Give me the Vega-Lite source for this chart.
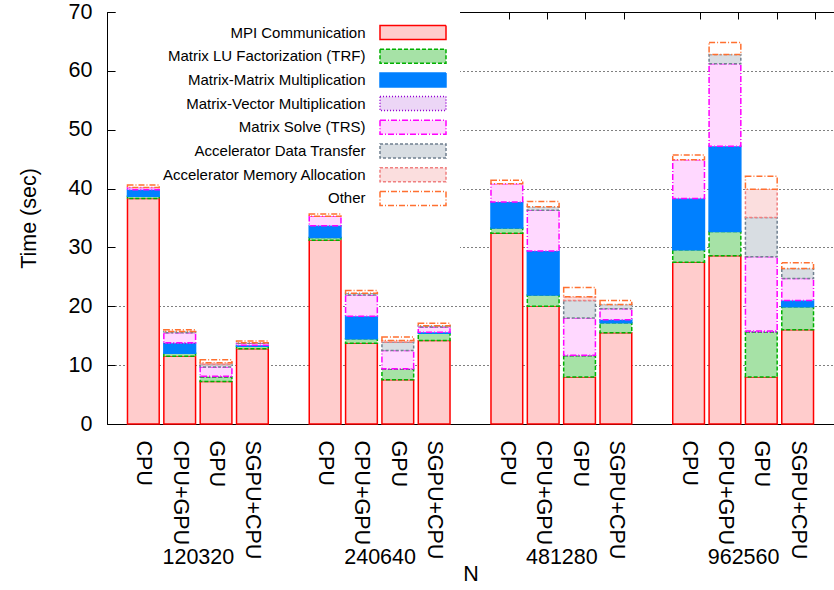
{
  "$schema": "https://vega.github.io/schema/vega-lite/v6.json",
  "autosize": "none",
  "width": 727,
  "height": 412,
  "padding": {"left": 107, "top": 12, "right": 0, "bottom": 166},
  "background": "white",
  "config": {
    "view": {"stroke": null},
    "font": "Liberation Sans",
    "axis": {"labelFont": "Liberation Sans", "titleFont": "Liberation Sans", "labelColor": "black", "titleColor": "black", "titleFontWeight": "normal"},
    "legend": {"labelFont": "Liberation Sans", "labelColor": "black"}
  },
  "data": {
    "values": [
      {"N": "120320", "config": "CPU", "MPI Communication": 38.3, "Matrix LU Factorization (TRF)": 0.4, "Matrix-Matrix Multiplication": 1.1, "Matrix-Vector Multiplication": 0, "Matrix Solve (TRS)": 0.4, "Accelerator Data Transfer": 0, "Accelerator Memory Allocation": 0, "Other": 0.4},
      {"N": "120320", "config": "CPU+GPU", "MPI Communication": 11.5, "Matrix LU Factorization (TRF)": 0.5, "Matrix-Matrix Multiplication": 1.7, "Matrix-Vector Multiplication": 0.1, "Matrix Solve (TRS)": 1.7, "Accelerator Data Transfer": 0.2, "Accelerator Memory Allocation": 0, "Other": 0.3},
      {"N": "120320", "config": "GPU", "MPI Communication": 7.2, "Matrix LU Factorization (TRF)": 0.8, "Matrix-Matrix Multiplication": 0, "Matrix-Vector Multiplication": 0.1, "Matrix Solve (TRS)": 1.6, "Accelerator Data Transfer": 0.4, "Accelerator Memory Allocation": 0.3, "Other": 0.5},
      {"N": "120320", "config": "SGPU+CPU", "MPI Communication": 12.8, "Matrix LU Factorization (TRF)": 0.4, "Matrix-Matrix Multiplication": 0.2, "Matrix-Vector Multiplication": 0, "Matrix Solve (TRS)": 0.3, "Accelerator Data Transfer": 0.1, "Accelerator Memory Allocation": 0, "Other": 0.3},
      {"N": "240640", "config": "CPU", "MPI Communication": 31.2, "Matrix LU Factorization (TRF)": 0.5, "Matrix-Matrix Multiplication": 2.0, "Matrix-Vector Multiplication": 0, "Matrix Solve (TRS)": 1.6, "Accelerator Data Transfer": 0, "Accelerator Memory Allocation": 0, "Other": 0.4},
      {"N": "240640", "config": "CPU+GPU", "MPI Communication": 13.7, "Matrix LU Factorization (TRF)": 0.8, "Matrix-Matrix Multiplication": 3.8, "Matrix-Vector Multiplication": 0, "Matrix Solve (TRS)": 3.6, "Accelerator Data Transfer": 0.3, "Accelerator Memory Allocation": 0, "Other": 0.5},
      {"N": "240640", "config": "GPU", "MPI Communication": 7.5, "Matrix LU Factorization (TRF)": 1.8, "Matrix-Matrix Multiplication": 0, "Matrix-Vector Multiplication": 0.1, "Matrix Solve (TRS)": 3.1, "Accelerator Data Transfer": 1.4, "Accelerator Memory Allocation": 0.3, "Other": 0.6},
      {"N": "240640", "config": "SGPU+CPU", "MPI Communication": 14.2, "Matrix LU Factorization (TRF)": 1.2, "Matrix-Matrix Multiplication": 0.2, "Matrix-Vector Multiplication": 0, "Matrix Solve (TRS)": 0.9, "Accelerator Data Transfer": 0.2, "Accelerator Memory Allocation": 0, "Other": 0.4},
      {"N": "481280", "config": "CPU", "MPI Communication": 32.4, "Matrix LU Factorization (TRF)": 0.9, "Matrix-Matrix Multiplication": 4.4, "Matrix-Vector Multiplication": 0, "Matrix Solve (TRS)": 3.1, "Accelerator Data Transfer": 0, "Accelerator Memory Allocation": 0, "Other": 0.6},
      {"N": "481280", "config": "CPU+GPU", "MPI Communication": 20.0, "Matrix LU Factorization (TRF)": 1.9, "Matrix-Matrix Multiplication": 7.5, "Matrix-Vector Multiplication": 0, "Matrix Solve (TRS)": 6.9, "Accelerator Data Transfer": 0.6, "Accelerator Memory Allocation": 0, "Other": 0.9},
      {"N": "481280", "config": "GPU", "MPI Communication": 8.0, "Matrix LU Factorization (TRF)": 3.6, "Matrix-Matrix Multiplication": 0, "Matrix-Vector Multiplication": 0.1, "Matrix Solve (TRS)": 6.3, "Accelerator Data Transfer": 3.0, "Accelerator Memory Allocation": 0.6, "Other": 1.6},
      {"N": "481280", "config": "SGPU+CPU", "MPI Communication": 15.5, "Matrix LU Factorization (TRF)": 1.7, "Matrix-Matrix Multiplication": 0.5, "Matrix-Vector Multiplication": 0, "Matrix Solve (TRS)": 1.9, "Accelerator Data Transfer": 0.7, "Accelerator Memory Allocation": 0, "Other": 0.7},
      {"N": "962560", "config": "CPU", "MPI Communication": 27.5, "Matrix LU Factorization (TRF)": 2.1, "Matrix-Matrix Multiplication": 8.7, "Matrix-Vector Multiplication": 0, "Matrix Solve (TRS)": 6.6, "Accelerator Data Transfer": 0, "Accelerator Memory Allocation": 0, "Other": 0.8},
      {"N": "962560", "config": "CPU+GPU", "MPI Communication": 28.6, "Matrix LU Factorization (TRF)": 4.1, "Matrix-Matrix Multiplication": 14.5, "Matrix-Vector Multiplication": 0, "Matrix Solve (TRS)": 14.0, "Accelerator Data Transfer": 1.6, "Accelerator Memory Allocation": 0, "Other": 2.0},
      {"N": "962560", "config": "GPU", "MPI Communication": 8.0, "Matrix LU Factorization (TRF)": 7.6, "Matrix-Matrix Multiplication": 0, "Matrix-Vector Multiplication": 0.2, "Matrix Solve (TRS)": 12.6, "Accelerator Data Transfer": 6.7, "Accelerator Memory Allocation": 4.8, "Other": 2.2},
      {"N": "962560", "config": "SGPU+CPU", "MPI Communication": 16.0, "Matrix LU Factorization (TRF)": 3.9, "Matrix-Matrix Multiplication": 1.1, "Matrix-Vector Multiplication": 0, "Matrix Solve (TRS)": 3.7, "Accelerator Data Transfer": 1.7, "Accelerator Memory Allocation": 0, "Other": 1.0}
    ]
  },
  "transform": [
    {"fold": ["MPI Communication", "Matrix LU Factorization (TRF)", "Matrix-Matrix Multiplication", "Matrix-Vector Multiplication", "Matrix Solve (TRS)", "Accelerator Data Transfer", "Accelerator Memory Allocation", "Other"], "as": ["cat", "t"]},
    {"filter": "datum.t > 0"},
    {"calculate": "datum.N + ' ' + datum.config", "as": "bar"},
    {"calculate": "indexof(['MPI Communication','Matrix LU Factorization (TRF)','Matrix-Matrix Multiplication','Matrix-Vector Multiplication','Matrix Solve (TRS)','Accelerator Data Transfer','Accelerator Memory Allocation','Other'], datum.cat)", "as": "ord"}
  ],
  "layer": [
    {
      "data": {"values": [{}]},
      "mark": {"type": "rect", "fill": "white", "stroke": null},
      "encoding": {
        "x": {"datum": 0.012, "type": "quantitative", "scale": {"domain": [0, 1], "nice": false, "zero": false}, "axis": null},
        "x2": {"datum": 0.4856},
        "y": {"datum": 25, "type": "quantitative"},
        "y2": {"datum": 70}
      }
    },
    {
      "mark": {"type": "bar", "strokeWidth": 1.5},
      "encoding": {
        "x": {
          "field": "bar", "type": "nominal",
          "scale": {
            "domain": ["120320 CPU", "120320 CPU+GPU", "120320 GPU", "120320 SGPU+CPU", "g1", "240640 CPU", "240640 CPU+GPU", "240640 GPU", "240640 SGPU+CPU", "g2", "481280 CPU", "481280 CPU+GPU", "481280 GPU", "481280 SGPU+CPU", "g3", "962560 CPU", "962560 CPU+GPU", "962560 GPU", "962560 SGPU+CPU"],
            "paddingInner": 0.127, "paddingOuter": 0.5635
          },
          "axis": {
            "orient": "bottom", "title": null, "ticks": false, "domain": true, "domainColor": "black", "domainWidth": 1,
            "labelAngle": 90, "labelAlign": "left", "labelBaseline": "middle", "labelPadding": 16, "labelFontSize": 21.5,
            "labelExpr": "indexof(datum.value, ' ') < 0 ? '' : slice(datum.value, indexof(datum.value, ' ') + 1)",
            "grid": false
          }
        },
        "y": {
          "aggregate": "sum", "field": "t", "type": "quantitative", "stack": "zero",
          "scale": {"domain": [0, 70], "nice": false},
          "axis": {
            "title": "Time (sec)", "values": [0, 10, 20, 30, 40, 50, 60, 70],
            "grid": true, "gridDash": [1, 3], "gridColor": "black", "gridWidth": 1, "gridOpacity": 1,
            "tickSize": -8, "tickColor": "black", "domainColor": "black",
            "labelFontSize": 21.5, "labelPadding": 23, "titleFontSize": 21.5, "titlePadding": 28
          }
        },
        "order": {"field": "ord", "type": "quantitative"},
        "fill": {
          "field": "cat", "type": "nominal",
          "scale": {
            "domain": ["MPI Communication", "Matrix LU Factorization (TRF)", "Matrix-Matrix Multiplication", "Matrix-Vector Multiplication", "Matrix Solve (TRS)", "Accelerator Data Transfer", "Accelerator Memory Allocation", "Other"],
            "range": ["#ffcccc", "#a6e2a6", "#0080ff", "#ecd6f6", "#ffd8ff", "#d8dde2", "#fbdede", "#ffffff"]
          },
          "legend": {
            "orient": "none", "legendX": 273, "legendY": 11.5, "title": null, "padding": 0,
            "symbolType": "M-4,-0.85H4V0.85H-4Z", "symbolSize": 272.25, "symbolStrokeWidth": 1.5, "symbolOffset": 24,
            "labelFontSize": 15, "labelAlign": "right", "labelOffset": -56.5, "rowPadding": 1.7, "labelLimit": 300
          }
        },
        "stroke": {
          "field": "cat", "type": "nominal",
          "scale": {
            "domain": ["MPI Communication", "Matrix LU Factorization (TRF)", "Matrix-Matrix Multiplication", "Matrix-Vector Multiplication", "Matrix Solve (TRS)", "Accelerator Data Transfer", "Accelerator Memory Allocation", "Other"],
            "range": ["#ff0000", "#00b000", "#0080ff", "#9400d3", "#ff00ff", "#708090", "#f08080", "#ff7030"]
          }
        },
        "strokeDash": {
          "field": "cat", "type": "nominal",
          "scale": {
            "domain": ["MPI Communication", "Matrix LU Factorization (TRF)", "Matrix-Matrix Multiplication", "Matrix-Vector Multiplication", "Matrix Solve (TRS)", "Accelerator Data Transfer", "Accelerator Memory Allocation", "Other"],
            "range": [[1, 0], [4, 2], [1, 0], [1, 2], [6, 2, 1, 2], [3, 2], [3, 2], [6, 2, 1, 2]]
          }
        }
      }
    },
    {
      "mark": {"type": "text", "text": ""},
      "encoding": {
        "x": {
          "field": "bar", "type": "nominal",
          "scale": {
            "domain": ["120320 CPU", "120320 CPU+GPU", "120320 GPU", "120320 SGPU+CPU", "g1", "240640 CPU", "240640 CPU+GPU", "240640 GPU", "240640 SGPU+CPU", "g2", "481280 CPU", "481280 CPU+GPU", "481280 GPU", "481280 SGPU+CPU", "g3", "962560 CPU", "962560 CPU+GPU", "962560 GPU", "962560 SGPU+CPU"],
            "paddingInner": 0.127, "paddingOuter": 0.5635
          },
          "axis": {
            "orient": "top", "title": null, "labels": false, "ticks": true, "tickSize": -7, "tickColor": "black",
            "domain": true, "domainColor": "black", "grid": false,
            "values": ["120320 CPU", "120320 CPU+GPU", "120320 GPU", "120320 SGPU+CPU", "240640 CPU", "240640 CPU+GPU", "240640 GPU", "240640 SGPU+CPU", "481280 CPU", "481280 CPU+GPU", "481280 GPU", "481280 SGPU+CPU", "962560 CPU", "962560 CPU+GPU", "962560 GPU", "962560 SGPU+CPU"]
          }
        },
        "y": {"datum": 0, "type": "quantitative"}
      }
    },
    {
      "mark": {"type": "text", "text": ""},
      "encoding": {
        "x": {
          "field": "N", "type": "nominal",
          "scale": {"domain": ["120320", "240640", "481280", "962560"], "paddingInner": 0, "paddingOuter": 0},
          "axis": {
            "orient": "bottom", "title": "N", "ticks": false, "domain": false, "grid": false, "labelAngle": 0,
            "labelPadding": 122, "labelFontSize": 21.5, "titleFontSize": 21.5, "titlePadding": -4
          }
        },
        "y": {"datum": 0, "type": "quantitative"}
      }
    }
  ],
  "resolve": {"scale": {"x": "independent"}, "axis": {"x": "independent"}}
}
